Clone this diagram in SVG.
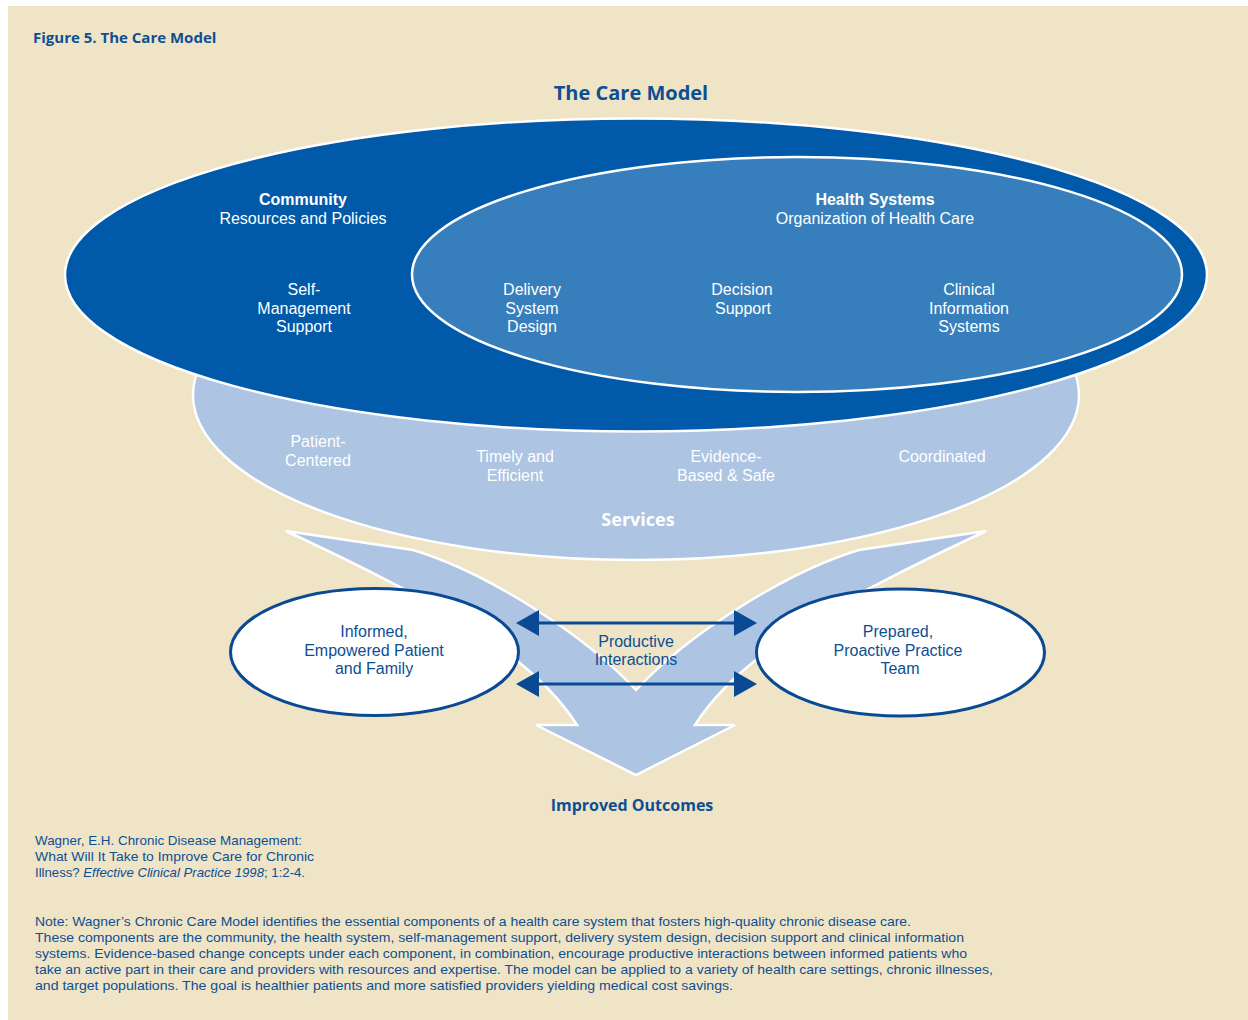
<svg xmlns="http://www.w3.org/2000/svg" width="1248" height="1020" viewBox="0 0 1248 1020">
<style>
.lbl{font-family:"Liberation Sans",Arial,sans-serif;font-size:16px;fill:#ffffff;text-anchor:middle}
.b{font-weight:bold}
.hd{font-family:"Open Sans","Liberation Sans",sans-serif;font-weight:bold;fill:#0D4F93;text-anchor:middle}
.dk{font-family:"Liberation Sans",Arial,sans-serif;font-size:16px;fill:#0D4F93;text-anchor:middle}
.small{font-family:"Liberation Sans",Arial,sans-serif;font-size:13px;fill:#0D4F93}
.node{fill:#ffffff;stroke:#0A4A94;stroke-width:3}
.conn{stroke:#0A4A94;stroke-width:3;fill:none}
</style>
<defs>
<marker id="ah" markerUnits="userSpaceOnUse" markerWidth="23" markerHeight="26" viewBox="0 0 23 26" refX="0" refY="13" orient="auto-start-reverse">
<path d="M0,0 L23,13 L0,26 Z" fill="#0A4A94"/>
</marker>
</defs>
<rect x="0" y="0" width="1248" height="1020" fill="#ffffff"/>
<rect x="8" y="6" width="1240" height="1014" fill="#F0E4C7"/>
<text x="33" y="43" class="hd" style="font-size:15px;text-anchor:start">Figure 5. The Care Model</text>
<text x="631" y="100" class="hd" style="font-size:20px">The Care Model</text>

<g id="outcomes-arrow">
<path d="M286,531 L413,550 C480,570 580,630 636,690 C692,630 792,570 859,550 L986,531 C852,594 742,650 695,725 L735,725 L636,775 L536,725 L577,725 C530,650 420,594 286,531 Z" fill="#ADC4E2" stroke="#ffffff" stroke-width="2.5" stroke-linejoin="miter"/>
</g>

<g id="services">
<ellipse cx="636" cy="395" rx="443" ry="165" fill="#ADC4E2" stroke="#ffffff" stroke-width="2.5"/>
<text class="lbl" x="318" y="447">Patient-</text>
<text class="lbl" x="318" y="466">Centered</text>
<text class="lbl" x="515" y="462">Timely and</text>
<text class="lbl" x="515" y="481">Efficient</text>
<text class="lbl" x="726" y="462">Evidence-</text>
<text class="lbl" x="726" y="481">Based &amp; Safe</text>
<text class="lbl" x="942" y="462">Coordinated</text>
<text class="hd" x="638" y="526" style="font-size:18px;fill:#ffffff">Services</text>
</g>

<g id="community">
<ellipse cx="636" cy="275" rx="571" ry="156.5" fill="#005AA9" stroke="#ffffff" stroke-width="2.5"/>
<text class="lbl b" x="303" y="205">Community</text>
<text class="lbl" x="303" y="224">Resources and Policies</text>
<text class="lbl" x="304" y="295">Self-</text>
<text class="lbl" x="304" y="313.5">Management</text>
<text class="lbl" x="304" y="332">Support</text>
</g>

<g id="health-systems">
<ellipse cx="797" cy="274.5" rx="385" ry="117.5" fill="#377EBC" stroke="#ffffff" stroke-width="2.5"/>
<text class="lbl b" x="875" y="205">Health Systems</text>
<text class="lbl" x="875" y="224">Organization of Health Care</text>
<text class="lbl" x="532" y="295">Delivery</text>
<text class="lbl" x="532" y="313.5">System</text>
<text class="lbl" x="532" y="332">Design</text>
<text class="lbl" x="742" y="295">Decision</text>
<text class="lbl" x="743" y="313.5">Support</text>
<text class="lbl" x="969" y="295">Clinical</text>
<text class="lbl" x="969" y="313.5">Information</text>
<text class="lbl" x="969" y="332">Systems</text>
</g>

<g id="patient">
<ellipse class="node" cx="374.5" cy="652" rx="144" ry="63.5"/>
<text class="dk" x="374" y="637">Informed,</text>
<text class="dk" x="374" y="655.5">Empowered Patient</text>
<text class="dk" x="374" y="674">and Family</text>
</g>

<g id="practice-team">
<ellipse class="node" cx="900.5" cy="652.5" rx="144" ry="63.5"/>
<text class="dk" x="898" y="637">Prepared,</text>
<text class="dk" x="898" y="655.5">Proactive Practice</text>
<text class="dk" x="900" y="674">Team</text>
</g>

<g id="connectors">
<line class="conn" x1="539" y1="623" x2="734" y2="623" marker-start="url(#ah)" marker-end="url(#ah)"/>
<line class="conn" x1="539" y1="684" x2="734" y2="684" marker-start="url(#ah)" marker-end="url(#ah)"/>
<text class="dk" x="636" y="646.5">Productive</text>
<text class="dk" x="636" y="665">Interactions</text>
</g>

<text class="hd" x="632" y="811" style="font-size:16px">Improved Outcomes</text>

<g id="citation">
<text class="small" x="35" y="845" textLength="267" lengthAdjust="spacingAndGlyphs">Wagner, E.H. Chronic Disease Management:</text>
<text class="small" x="35" y="861" textLength="279" lengthAdjust="spacingAndGlyphs">What Will It Take to Improve Care for Chronic</text>
<text class="small" x="35" y="877" textLength="270" lengthAdjust="spacingAndGlyphs">Illness? <tspan font-style="italic">Effective Clinical Practice 1998</tspan>; 1:2-4.</text>
</g>

<g id="note">
<text class="small" x="35" y="926" textLength="876" lengthAdjust="spacingAndGlyphs">Note: Wagner’s Chronic Care Model identifies the essential components of a health care system that fosters high-quality chronic disease care.</text>
<text class="small" x="35" y="942" textLength="929" lengthAdjust="spacingAndGlyphs">These components are the community, the health system, self-management support, delivery system design, decision support and clinical information</text>
<text class="small" x="35" y="958" textLength="932" lengthAdjust="spacingAndGlyphs">systems. Evidence-based change concepts under each component, in combination, encourage productive interactions between informed patients who</text>
<text class="small" x="35" y="974" textLength="958" lengthAdjust="spacingAndGlyphs">take an active part in their care and providers with resources and expertise. The model can be applied to a variety of health care settings, chronic illnesses,</text>
<text class="small" x="35" y="990" textLength="698" lengthAdjust="spacingAndGlyphs">and target populations. The goal is healthier patients and more satisfied providers yielding medical cost savings.</text>
</g>
</svg>
